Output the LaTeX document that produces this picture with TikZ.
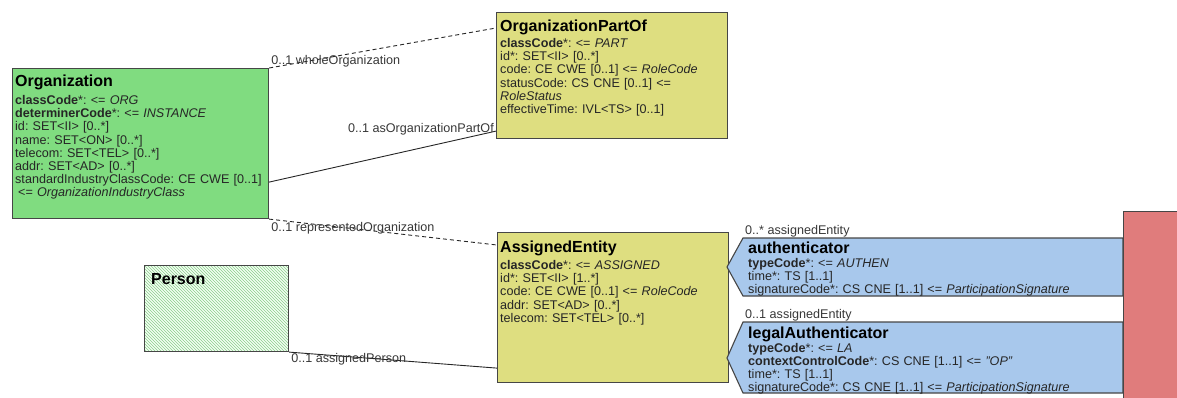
\documentclass[tikz,border=0pt]{standalone}
\usepackage{fontspec}
\setmainfont{Liberation Sans}
\usepackage{xcolor}
\usepackage{tikz}
\usetikzlibrary{patterns, positioning}
\frenchspacing

\definecolor{orggreen}{RGB}{128,220,128}
\definecolor{roleyellow}{RGB}{222,222,128}
\definecolor{partblue}{RGB}{168,200,236}
\definecolor{actred}{RGB}{224,124,124}
\definecolor{edgegray}{RGB}{70,70,70}
\definecolor{labelgray}{RGB}{55,55,55}
\definecolor{hatchgreen}{RGB}{140,205,140}

\tikzset{
  classbox/.style={draw=edgegray, line width=1.1pt, inner sep=0pt, anchor=north west},
  classname/.style={anchor=base west, inner sep=0pt, font=\fontsize{16}{18}\selectfont\bfseries},
  attrs/.style={anchor=base west, inner sep=0pt, text width=340pt, align=left,
    font=\fontsize{12.6}{13.2}\selectfont, text=black!85},
  rolename/.style={inner sep=0pt, text=labelgray, font=\fontsize{12.6}{13}\selectfont},
  assoc/.style={draw=black!85, line width=0.9pt},
}

\begin{document}
\begin{tikzpicture}[x=1pt, y=-1pt]
\useasboundingbox (0,0) rectangle (1177,397);

% classes
\node[classbox, fill=orggreen, minimum width=256pt, minimum height=150pt] (org) at (12,68) {};
\node[classbox, fill=roleyellow, minimum width=231pt, minimum height=126pt] (opo) at (496,12) {};
\node[classbox, fill=roleyellow, minimum width=231pt, minimum height=150pt] (ae) at (497,232) {};
\node[classbox, preaction={fill=green!5}, pattern=north west lines, pattern color=hatchgreen,
  minimum width=144pt, minimum height=86pt] (person) at (144,265) {};

% participations
\coordinate (auth) at (743,238);
\coordinate (legal) at (743,322);
\draw[fill=partblue, draw=edgegray, line width=1.1pt] (auth) -- (1123,238) -- (1123,296) -- (743,296) -- (727,267) -- cycle;
\draw[fill=partblue, draw=edgegray, line width=1.1pt] (legal) -- (1123,322) -- (1123,393) -- (743,393) -- (727,358) -- cycle;
\node[classbox, fill=actred, minimum width=70pt, minimum height=200pt] (act) at (1123,211) {};

% class texts
\node[classname] (orgName) at ([xshift=3pt, yshift=-18pt]org.north west) {Organization};
\node[attrs] (orgAttrs) at ([xshift=3pt, yshift=-36.5pt]org.north west) {%
\textbf{classCode}*: <= \textit{ORG}\\
\textbf{determinerCode}*: <= \textit{INSTANCE}\\
id: SET<II> [0..*]\\
name: SET<ON> [0..*]\\
telecom: SET<TEL> [0..*]\\
addr: SET<AD> [0..*]\\
standardIndustryClassCode: CE CWE [0..1]\\
\hspace*{3pt}<= \textit{OrganizationIndustryClass}};

\node[classname] (opoName) at ([xshift=4pt, yshift=-19pt]opo.north west) {OrganizationPartOf};
\node[attrs] (opoAttrs) at ([xshift=4pt, yshift=-35.5pt]opo.north west) {%
\textbf{classCode}*: <= \textit{PART}\\
id*: SET<II> [0..*]\\
code: CE CWE [0..1] <= \textit{RoleCode}\\
statusCode: CS CNE [0..1] <=\\
\textit{RoleStatus}\\
effectiveTime: IVL<TS> [0..1]};

\node[classname] (aeName) at ([xshift=3pt, yshift=-20pt]ae.north west) {AssignedEntity};
\node[attrs] (aeAttrs) at ([xshift=3pt, yshift=-37.5pt]ae.north west) {%
\textbf{classCode}*: <= \textit{ASSIGNED}\\
id*: SET<II> [1..*]\\
code: CE CWE [0..1] <= \textit{RoleCode}\\
addr: SET<AD> [0..*]\\
telecom: SET<TEL> [0..*]};

\node[classname] (personName) at ([xshift=7pt, yshift=-19pt]person.north west) {Person};

\node[classname] (authName) at ([xshift=5pt, yshift=-15pt]auth) {authenticator};
\node[attrs, font=\fontsize{12.6}{13}\selectfont] (authAttrs) at ([xshift=5pt, yshift=-29.5pt]auth) {%
\textbf{typeCode}*: <= \textit{AUTHEN}\\
time*: TS [1..1]\\
signatureCode*: CS CNE [1..1] <= \textit{ParticipationSignature}};

\node[classname] (legalName) at ([xshift=5pt, yshift=-16pt]legal) {legalAuthenticator};
\node[attrs, font=\fontsize{12.6}{13}\selectfont] (legalAttrs) at ([xshift=5pt, yshift=-30.5pt]legal) {%
\textbf{typeCode}*: <= \textit{LA}\\
\textbf{contextControlCode}*: CS CNE [1..1] <= \textit{"OP"}\\
time*: TS [1..1]\\
signatureCode*: CS CNE [1..1] <= \textit{ParticipationSignature}};

% associations
\draw[assoc, dash pattern=on 4pt off 3pt] (org.north east) -- ([yshift=-16pt]opo.north west);
\draw[assoc] ([yshift=37pt]org.south east) -- ([yshift=8pt]opo.south west);
\draw[assoc, dash pattern=on 4pt off 3pt] (org.south east) -- ([yshift=-13pt]ae.north west);
\draw[assoc] (person.south east) -- ([yshift=15pt]ae.south west);

% role names
\node[rolename, anchor=base west] (wholeRole) at ([xshift=2pt, yshift=3.5pt]org.north east) {0..1 wholeOrganization};
\node[rolename, anchor=base east] (partRole) at ([xshift=-2pt, yshift=6.5pt]opo.south west) {0..1 asOrganizationPartOf};
\node[rolename, anchor=base west] (reprRole) at ([xshift=2pt, yshift=-12.5pt]org.south east) {0..1 representedOrganization};
\node[rolename, anchor=base west] (personRole) at ([xshift=2pt, yshift=-10.5pt]person.south east) {0..1 assignedPerson};
\node[rolename, anchor=base west] (authRole) at ([xshift=2pt, yshift=3.5pt]auth) {0..* assignedEntity};
\node[rolename, anchor=base west] (legalRole) at ([xshift=2pt, yshift=3.5pt]legal) {0..1 assignedEntity};
\end{tikzpicture}
\end{document}
